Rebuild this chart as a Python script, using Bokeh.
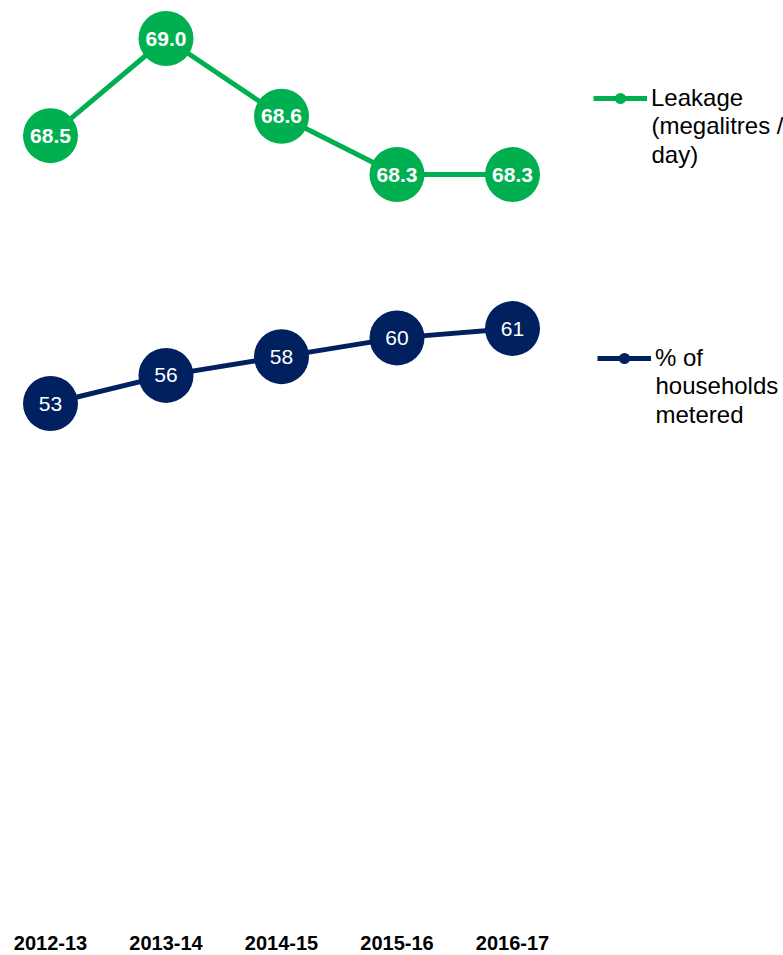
from bokeh.plotting import figure
from bokeh.models import (ColumnDataSource, Range1d, LinearAxis, FixedTicker,
                          Legend, LegendItem, Label)
from bokeh.core.properties import value
from bokeh.embed import file_html
from bokeh.resources import INLINE

# ---- data -------------------------------------------------------------
years = ["2012-13", "2013-14", "2014-15", "2015-16", "2016-17"]
leakage = [68.5, 69.0, 68.6, 68.3, 68.3]          # megalitres / day
metered = [53, 56, 58, 60, 61]                    # % of households metered

GREEN = "#00B050"
NAVY = "#002060"
FONT = "Liberation Sans"

# ---- layout constants --------------------------------------------------
FRAME_W = 783
FRAME_H = 921
X0, DX = 50.0, 115.5            # pixel of first category, category spacing

idx = list(range(len(years)))

x_range = Range1d(-X0 / DX, (FRAME_W - X0) / DX)
# leakage scale: 69.0 at 38px from top, 194.3 px per megalitre
lk_px = 194.3
lk_range = Range1d(69.0 - (FRAME_H - 38) / lk_px, 69.0 + 38 / lk_px)
# metering scale: 53 at 403px from top, 9.375 px per percentage point
mt_px = 9.375
mt_range = Range1d(53 - (FRAME_H - 403) / mt_px, 53 + 403 / mt_px)

p = figure(frame_width=FRAME_W, frame_height=FRAME_H,
           x_range=x_range, y_range=lk_range,
           output_backend="svg", toolbar_location=None,
           min_border_left=0, min_border_right=0, min_border_top=0,
           min_border_bottom=0, x_axis_location=None, y_axis_location=None)
p.extra_y_ranges = {"metered": mt_range}
p.grid.visible = False
p.outline_line_color = None
p.background_fill_color = "white"
p.border_fill_color = "white"

src_lk = ColumnDataSource(dict(x=idx, y=leakage,
                               lab=[f"{v:.1f}" for v in leakage]))
src_mt = ColumnDataSource(dict(x=idx, y=metered,
                               lab=[f"{v:d}" for v in metered]))

# leakage series
lk_line = p.line("x", "y", source=src_lk, line_color=GREEN, line_width=5)
lk_dots = p.scatter("x", "y", source=src_lk, size=55, fill_color=GREEN,
                    line_color=None)
p.text("x", "y", text="lab", source=src_lk, text_color="white",
       text_font=value(FONT), text_font_style="bold", text_font_size="21px",
       text_align="center", text_baseline="middle")

# household metering series
mt_line = p.line("x", "y", source=src_mt, line_color=NAVY, line_width=5,
                 y_range_name="metered")
mt_dots = p.scatter("x", "y", source=src_mt, size=55, fill_color=NAVY,
                    line_color=None, y_range_name="metered")
p.text("x", "y", text="lab", source=src_mt, text_color="white",
       text_font=value(FONT), text_font_size="21px",
       text_align="center", text_baseline="middle", y_range_name="metered")

# category axis along the bottom
xaxis = LinearAxis(ticker=FixedTicker(ticks=idx),
                   major_label_overrides={i: y for i, y in enumerate(years)})
xaxis.axis_line_color = None
xaxis.major_tick_line_color = None
xaxis.minor_tick_line_color = None
xaxis.major_tick_out = 0
xaxis.major_tick_in = 0
xaxis.major_label_standoff = 14
xaxis.major_label_text_font = FONT
xaxis.major_label_text_font_style = "bold"
xaxis.major_label_text_font_size = "20px"
xaxis.major_label_text_color = "black"
p.add_layout(xaxis, "below")

LEG_SIZE = 24
LINE_H = 28


def side_legend(lines, renderers, x, y_mid):
    """Legend swatch beside the first line; remaining lines set below it."""
    leg = Legend(items=[LegendItem(label=lines[0], renderers=renderers)],
                 location=(x, FRAME_H - y_mid - LINE_H / 2), padding=0,
                 margin=0, spacing=0, glyph_width=54, glyph_height=LINE_H,
                 label_standoff=4, label_text_font=FONT,
                 label_text_font_size=f"{LEG_SIZE}px",
                 label_text_color="black", label_height=LINE_H,
                 border_line_color=None, background_fill_alpha=0)
    p.add_layout(leg, "center")
    rest = Label(x=x + 58, y=FRAME_H - y_mid - LINE_H / 2 + 1,
                 x_units="screen", y_units="screen",
                 text="\n".join(lines[1:]), text_font=FONT,
                 text_font_size=f"{LEG_SIZE}px", text_color="black",
                 text_baseline="top", text_line_height=1.08)
    p.add_layout(rest)


side_legend(["Leakage", "(megalitres /", "day)"], [lk_line, lk_dots],
            593, 98)
side_legend(["% of", "households", "metered"], [mt_line, mt_dots],
            597, 358)

open("out.html", "w").write(file_html(p, INLINE))
